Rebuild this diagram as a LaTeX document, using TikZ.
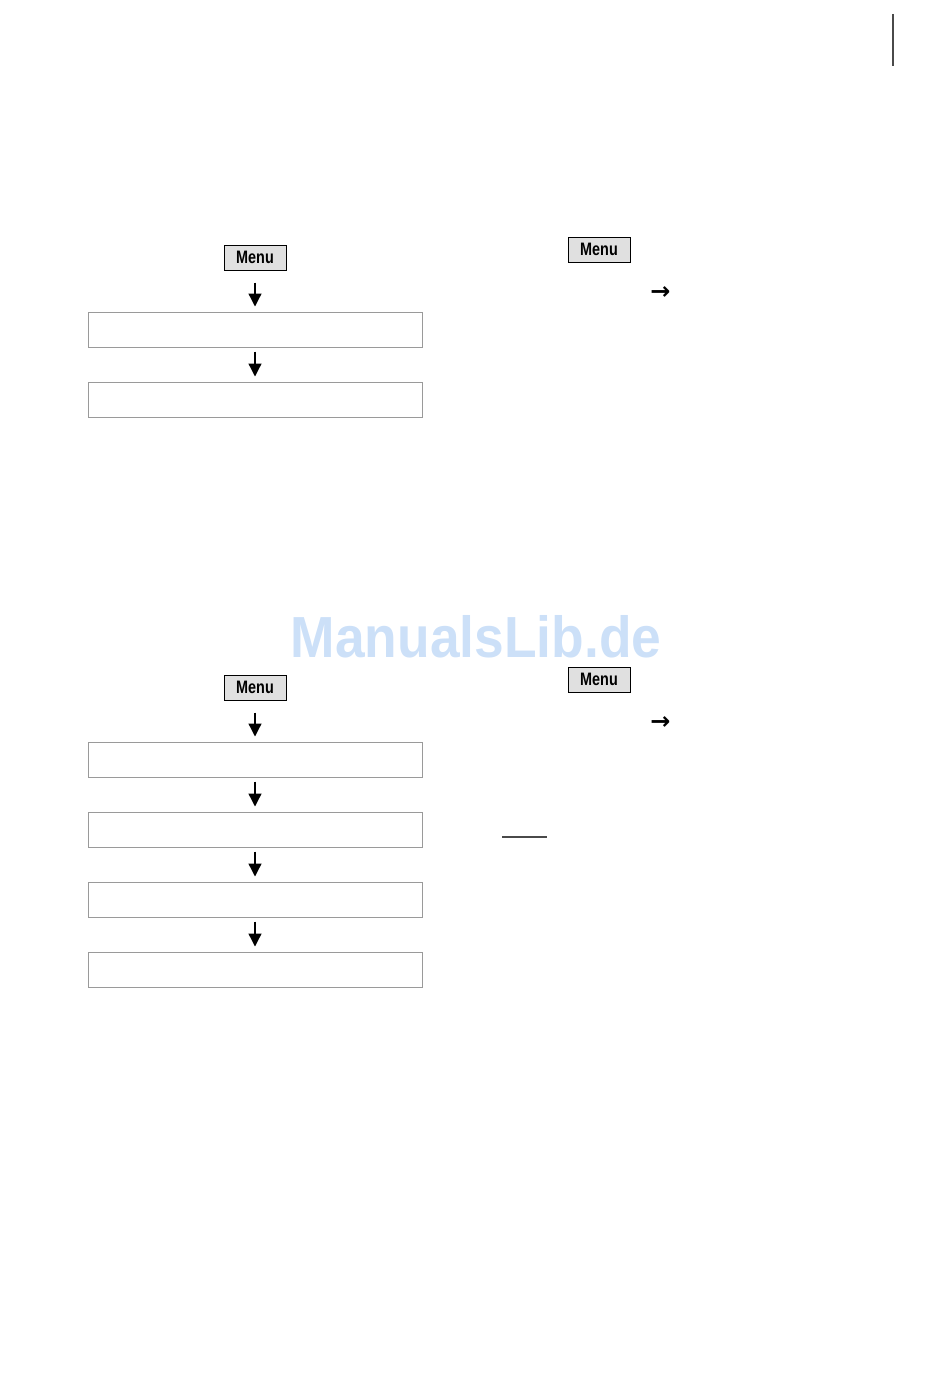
\documentclass[tikz,border=0pt]{standalone}
\usepackage{fontspec}
\setsansfont{Liberation Sans}
\newfontfamily\keyfont[FakeStretch=0.8]{Liberation Sans}
\newfontfamily\markfont[FakeStretch=0.92]{Liberation Sans}
\newfontfamily\symfont{DejaVu Sans}
\usetikzlibrary{arrows.meta}
\definecolor{keygray}{HTML}{E0E0E0}
\definecolor{framegray}{HTML}{9A9A9A}
\definecolor{rulegray}{HTML}{4A4A4A}
\definecolor{markblue}{HTML}{CCE0F8}

\begin{document}
\begin{tikzpicture}[x=1pt,y=-1pt,font=\sffamily,
  >={Triangle[width=13pt,length=13pt]},
  menukey/.style={draw=black,fill=keygray,line width=1pt,
    minimum width=62pt,minimum height=25pt,inner sep=0pt,
    font=\keyfont\bfseries\fontsize{18}{18}\selectfont},
  stepbox/.style={draw=framegray,line width=1pt,
    minimum width=334pt,minimum height=35pt,inner sep=0pt},
  flow/.style={->,line width=1.3pt,shorten >=5pt,shorten <=#1},
  flow/.default=4pt,
  goto/.style={inner sep=0pt,font=\symfont\bfseries\fontsize{24}{24}\selectfont}]
  \useasboundingbox (0,0) rectangle (950,1381);

  % page edge mark
  \draw[rulegray,line width=2pt] (893,14)--(893,66);

  % upper sequence
  \node[menukey] (key1) at (255,257.5) {Menu};
  \node[stepbox] (s1) at (255,329.5) {};
  \node[stepbox] (s2) at (255,399.5) {};
  \draw[flow=12pt] (key1)--(s1);
  \draw[flow] (s1)--(s2);

  \node[menukey] (key2) at (599,249.5) {Menu};
  \node[goto] (go1) at (660.5,293) {→};

  % watermark
  \node[text=markblue,font=\markfont\bfseries\fontsize{58}{58}\selectfont]
    (mark) at (476,637) {ManualsLib.de};

  % lower sequence
  \node[menukey] (key3) at (255,687.5) {Menu};
  \foreach \i/\y in {1/759.5,2/829.5,3/899.5,4/969.5}{
    \node[stepbox] (t\i) at (255,\y) {};
  }
  \draw[flow=12pt] (key3)--(t1);
  \foreach \i/\j in {1/2,2/3,3/4}{
    \draw[flow] (t\i)--(t\j);
  }

  \node[menukey] (key4) at (599,679.5) {Menu};
  \node[goto] (go2) at (660.5,723) {→};
  \draw[rulegray,line width=1.5pt] (502,837)--(547,837);
\end{tikzpicture}
\end{document}
